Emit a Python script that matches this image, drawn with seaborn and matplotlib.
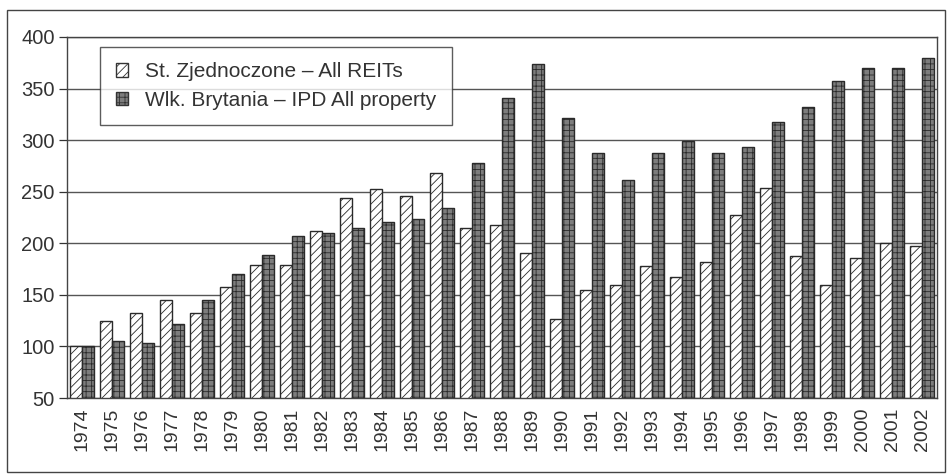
import matplotlib
matplotlib.use("Agg")
import matplotlib.pyplot as plt
from matplotlib.patches import Rectangle, Patch
import seaborn as sns
import pandas as pd
import numpy as np

years = [str(y) for y in range(1974, 2003)]
us_reits = [100, 125, 132, 145, 132, 158, 179, 179, 212, 244, 253, 246, 268, 215,
            218, 191, 127, 155, 160, 178, 167, 182, 227, 254, 188, 160, 186, 200, 197]
uk_ipd = [100, 105, 103, 122, 145, 170, 189, 207, 210, 215, 221, 224, 234, 278,
          341, 374, 321, 288, 261, 288, 299, 288, 293, 318, 332, 357, 370, 370, 380]
series_names = ["St. Zjednoczone – All REITs", "Wlk. Brytania – IPD All property"]

df = pd.DataFrame({
    "year": years * 2,
    "value": us_reits + uk_ipd,
    "series": [series_names[0]] * len(years) + [series_names[1]] * len(years),
})

sns.set_theme(style="white")
plt.rcParams["font.family"] = ["Liberation Sans", "DejaVu Sans"]
plt.rcParams["hatch.linewidth"] = 0.6

fig = plt.figure(figsize=(9.49, 4.75), dpi=100)
ax = fig.add_axes([67 / 949, 1 - 398 / 475, (937 - 67) / 949, (398 - 37) / 475])

face = {series_names[0]: "white", series_names[1]: "#7d7d7d"}
hatch = {series_names[0]: "////", series_names[1]: "+++"}

sns.barplot(data=df, x="year", y="value", hue="series", ax=ax,
            palette=face, width=0.8, edgecolor="#2a2a2a", linewidth=1.0,
            legend=False)

n = len(years)
for i, p in enumerate(ax.patches[: 2 * n]):
    s = series_names[0] if i < n else series_names[1]
    p.set_hatch(hatch[s])
    p.set_edgecolor("#2a2a2a")

ax.set_ylim(50, 400)
ax.set_xlim(-0.5, n - 0.5)
ax.set_yticks(np.arange(50, 401, 50))
ax.yaxis.grid(True, color="#555555", linewidth=1.0)
ax.set_axisbelow(True)
ax.set_xlabel("")
ax.set_ylabel("")

ax.set_xticks(range(n))
ax.set_xticklabels(years, rotation=90, fontsize=14, color="#333333")
ax.tick_params(axis="x", which="major", length=0, pad=7)
ax.set_xticks(np.arange(-0.5, n, 1.0), minor=True)
ax.tick_params(axis="x", which="minor", length=5, width=0.9, color="#333333", direction="out")
ax.tick_params(axis="y", length=6, width=0.9, color="#333333", labelsize=14.5,
               labelcolor="#333333", left=True, pad=3)

for side in ["left", "bottom", "right", "top"]:
    ax.spines[side].set_visible(True)
    ax.spines[side].set_color("#444444")
    ax.spines[side].set_linewidth(1.0)

handles = [Patch(facecolor=face[s], hatch=hatch[s], edgecolor="#333333", label=s)
           for s in series_names]
leg = ax.legend(handles=handles, loc="upper left", bbox_to_anchor=(0.038, 0.973),
                fontsize=15, frameon=True, fancybox=False, edgecolor="#333333",
                handlelength=0.6, handleheight=0.6, handletextpad=0.8,
                borderpad=0.75, labelspacing=0.45, borderaxespad=0)
leg.get_frame().set_linewidth(1.0)
for t in leg.get_texts():
    t.set_color("#333333")

fig.patches.append(Rectangle((7 / 949, 3 / 475), 938 / 949, 462 / 475,
                             transform=fig.transFigure, fill=False,
                             edgecolor="#444444", linewidth=1.0))

fig.savefig("out.png", dpi=100)
